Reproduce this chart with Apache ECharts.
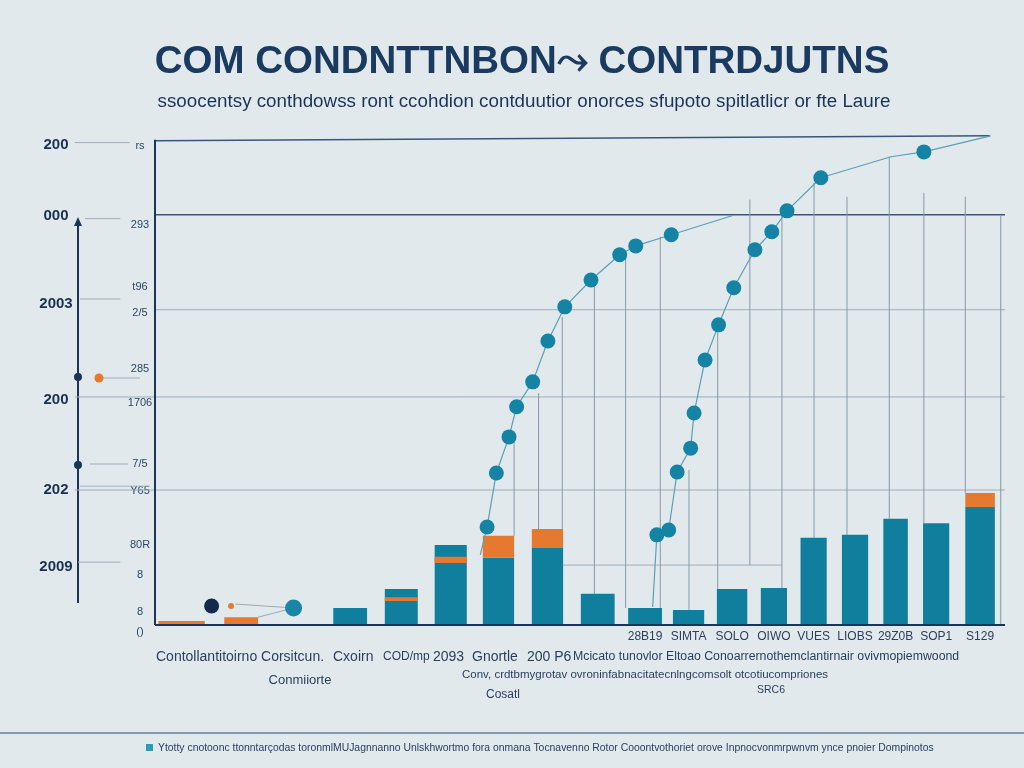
<!DOCTYPE html>
<html><head><meta charset="utf-8">
<script src="https://cdn.jsdelivr.net/npm/echarts@6/dist/echarts.min.js"></script>
<style>html,body{margin:0;padding:0;background:#e2e9ec;}#c{width:1024px;height:768px;}</style>
</head><body><div id="c"></div>
<script>
// ---- data (x in 0..100 plot units, y in 0..102 value units) ----
const barLeft   = [0.4, 8.2, 21.1, 27.2, 33.1, 38.8, 44.6, 50.4, 56.0, 61.3, 66.5, 71.7, 76.4, 81.3, 86.2, 90.9, 95.9];
const barRight  = [5.9, 12.2, 25.1, 31.1, 36.9, 42.5, 48.3, 54.4, 60.0, 65.0, 70.1, 74.8, 79.5, 84.4, 89.1, 94.0, 99.4];
const tealVals  = [0, 0, 3.5, 7.4, 16.4, 13.8, 15.8, 6.4, 3.5, 3.1, 7.4, 7.6, 17.9, 18.5, 21.8, 20.9, 24.2];
const orangeTop = [0.8, 1.6, 0, 0, 0, 18.3, 19.7, 0, 0, 0, 0, 0, 0, 0, 0, 0, 27.1];
const stripeLo  = [0, 0, 0, 4.9, 12.7, 0, 0, 0, 0, 0, 0, 0, 0, 0, 0, 0, 0];
const stripeHi  = [0, 0, 0, 5.7, 14.0, 0, 0, 0, 0, 0, 0, 0, 0, 0, 0, 0, 0];
const barLabels = ['', '', '', '', '', '', '', '', '28B19', 'SIMTA', 'SOLO', 'OIWO', 'VUES', 'LIOBS', '29Z0B', 'SOP1', 'S129'];

const line1X = [38.5, 39.3, 40.4, 41.9, 42.8, 44.7, 46.5, 48.5, 51.6, 55.0, 56.9, 61.1, 68.3];
const line1Y = [14.4, 20.1, 31.2, 38.6, 44.8, 49.9, 58.3, 65.3, 70.8, 76.0, 77.8, 80.1, 84.0];
const line1Marker = [0, 1, 1, 1, 1, 1, 1, 1, 1, 1, 1, 1, 0];

const line2X = [58.9, 59.4, 60.8, 61.8, 63.4, 63.8, 65.1, 66.7, 68.5, 71.0, 73.0, 74.8, 78.8, 87.1, 91.0, 98.9];
const line2Y = [3.7, 18.5, 19.5, 31.4, 36.3, 43.5, 54.4, 61.6, 69.2, 77.0, 80.7, 85.0, 91.8, 96.1, 97.1, 100.4];
const line2Marker = [0, 1, 1, 1, 1, 1, 1, 1, 1, 1, 1, 1, 1, 0, 1, 0];

const vLineX   = [42.5, 45.4, 48.2, 52.0, 55.7, 59.8, 63.2, 66.6, 70.4, 74.2, 78.0, 81.9, 86.9, 91.0, 95.9, 100.1];
const vLineTop = [38.6, 47.6, 63.2, 70.2, 75.6, 79.7, 31.8, 60.6, 87.3, 84.6, 90.8, 87.9, 96.1, 88.7, 87.9, 84.0];
const vLineBot = [18.3, 19.7, 19.7, 6.4, 3.5, 3.5, 3.1, 7.4, 12.3, 7.6, 17.9, 18.5, 21.8, 20.9, 27.1, 0];

const hLineY0 = [99.4, 84.2, 64.7, 46.8, 27.7, 12.3, 99.0, 83.4, 66.9, 28.5, 12.9];
const hLineY1 = [100.4, 84.2, 64.7, 46.8, 27.7, 12.3, 99.0, 83.4, 66.9, 28.5, 12.9];
const hLineX0 = [0, 0, 0, -9.5, -9.5, 47.9, -9.5, -8.3, -8.9, -8.9, -9.1];
const hLineX1 = [98.8, 100.6, 100.6, 100.6, 100.6, 74.2, -3.0, -4.1, -4.1, -0.6, -4.1];
const hLineDark = [1, 1, 0, 0, 0, 0, 0, 0, 0, 0, 0];

const dotX = [6.7, 9.0, 16.4];
const dotY = [3.9, 3.9, 3.5];
const dotKind = ['navy', 'orange', 'teal'];

const leftLabels  = ['200', '000', '2003', '200', '202', '2009'];
const leftLabelY  = [145, 216, 304, 400, 490, 567];
const innerLabels = ['rs', '293', 't96', '2/5', '285', '1706', '7/5', 'Y65', '80R', '8', '8', '()'];
const innerLabelY = [146, 225, 287, 313, 369, 403, 464, 491, 545, 575, 612, 632];

const TEAL = '#0f7f9d', ORANGE = '#e5792f', NAVY = '#1b3559', GRID = '#9eafbd', LINE = '#5a9fb8';
const FONT = '"Liberation Sans", Arial';

const chart = echarts.init(document.getElementById('c'));

const barData = barLeft.map((l, i) => [l, barRight[i], tealVals[i], orangeTop[i], stripeLo[i], stripeHi[i], i]);

function lineData(xs, ys, mk) {
  return xs.map((x, i) => ({ value: [x, ys[i]], symbol: mk[i] ? 'circle' : 'none' }));
}

const gtext = (text, x, y, opt) => Object.assign({
  type: 'text', x: x, y: y, silent: true,
  style: Object.assign({ text: text, fill: NAVY, font: '13px ' + FONT, textAlign: 'left', textVerticalAlign: 'middle' }, (opt || {}))
});

const graphics = [
  gtext('COM CONDNTTNBON\u2933 CONTRDJUTNS', 522, 62, { font: 'bold 38.5px ' + FONT, textAlign: 'center', fill: '#1a3a60' }),
  gtext('ssoocentsy conthdowss ront ccohdion contduutior onorces sfupoto spitlatlicr or fte Laure', 524, 102, { font: '18.8px ' + FONT, textAlign: 'center', fill: '#1a3358' }),
  // left decorative axis
  { type: 'line', silent: true, shape: { x1: 78, y1: 222, x2: 78, y2: 603 }, style: { stroke: NAVY, lineWidth: 2 } },
  { type: 'polygon', silent: true, shape: { points: [[74, 226], [82, 226], [78, 217]] }, style: { fill: NAVY } },
  { type: 'circle', silent: true, shape: { cx: 78, cy: 377, r: 4 }, style: { fill: NAVY } },
  { type: 'circle', silent: true, shape: { cx: 78, cy: 465, r: 4 }, style: { fill: NAVY } },
  { type: 'line', silent: true, shape: { x1: 100, y1: 378, x2: 140, y2: 378 }, style: { stroke: GRID, lineWidth: 1 } },
  { type: 'circle', silent: true, shape: { cx: 99, cy: 378, r: 4.5 }, style: { fill: ORANGE } },
  { type: 'line', silent: true, shape: { x1: 90, y1: 464, x2: 128, y2: 464 }, style: { stroke: GRID, lineWidth: 1 } },
  // footer
  { type: 'line', silent: true, shape: { x1: 0, y1: 733, x2: 1024, y2: 733 }, style: { stroke: '#2a4a72', lineWidth: 1 } },
  { type: 'rect', silent: true, shape: { x: 146, y: 744, width: 7, height: 7 }, style: { fill: '#2a9bb8' } },
  gtext('Ytotty cnotoonc ttonntarçodas toronmlMUJagnnanno Unlskhwortmo fora onmana Tocnavenno Rotor Cooontvothoriet orove Inpnocvonmrpwnvm ynce pnoier Dompinotos', 158, 748, { font: '10.4px ' + FONT, fill: '#2a4060' }),
  // lower category text rows
  gtext('Contollantitoirno Corsitcun.', 156, 657, { font: '14px ' + FONT, fill: '#2a3f5e' }),
  gtext('Cxoirn', 333, 657, { font: '14px ' + FONT, fill: '#2a3f5e' }),
  gtext('COD/mp', 383, 657, { font: '12px ' + FONT, fill: '#2a3f5e' }),
  gtext('2093', 433, 657, { font: '14px ' + FONT, fill: '#2a3f5e' }),
  gtext('Gnortle', 472, 657, { font: '14px ' + FONT, fill: '#2a3f5e' }),
  gtext('200 P6', 527, 657, { font: '14px ' + FONT, fill: '#2a3f5e' }),
  gtext('Mcicato tunovlor Eltoao Conoarrernothemclantirnair ovivmopiemwoond', 573, 657, { font: '12.3px ' + FONT, fill: '#2a3f5e' }),
  gtext('Conv, crdtbmygrotav ovroninfabnacitatecnlngcomsolt otcotiucompriones', 462, 675, { font: '11.5px ' + FONT, fill: '#2a3f5e' }),
  gtext('Conmiiorte', 300, 680, { font: '13px ' + FONT, fill: '#2a3f5e', textAlign: 'center' }),
  gtext('Cosatl', 503, 695, { font: '12px ' + FONT, fill: '#2a3f5e', textAlign: 'center' }),
  gtext('SRC6', 771, 690, { font: '10.5px ' + FONT, fill: '#2a3f5e', textAlign: 'center' })
];
leftLabels.forEach((t, i) => graphics.push(gtext(t, 56, leftLabelY[i], { font: 'bold 15px ' + FONT, textAlign: 'center', fill: '#1b2f50' })));
innerLabels.forEach((t, i) => graphics.push(gtext(t, 140, innerLabelY[i], { font: '11px ' + FONT, textAlign: 'center', fill: '#2d4563' })));

const option = {
  backgroundColor: '#e2e9ec',
  animation: false,
  grid: { left: 155, right: 19, top: 128, bottom: 143 },
  xAxis: { type: 'value', min: 0, max: 100.6, axisLine: { show: false }, axisTick: { show: false }, axisLabel: { show: false }, splitLine: { show: false } },
  yAxis: { type: 'value', min: 0, max: 102, axisLine: { show: false }, axisTick: { show: false }, axisLabel: { show: false }, splitLine: { show: false } },
  graphic: graphics,
  series: [
    { // horizontal grid / tick lines
      type: 'custom', clip: false, silent: true, z: 1,
      data: hLineY0.map((y, i) => [hLineX0[i], y, hLineX1[i], hLineY1[i], hLineDark[i]]),
      renderItem: (p, api) => {
        const a = api.coord([api.value(0), api.value(1)]), b = api.coord([api.value(2), api.value(3)]);
        const dark = api.value(4) === 1;
        return { type: 'line', shape: { x1: a[0], y1: a[1], x2: b[0], y2: b[1] }, style: { stroke: dark ? '#3a557a' : GRID, lineWidth: dark ? 1.5 : 1 } };
      }
    },
    { // vertical guide lines
      type: 'custom', clip: false, silent: true, z: 1,
      data: vLineX.map((x, i) => [x, vLineTop[i], vLineBot[i]]),
      renderItem: (p, api) => {
        const a = api.coord([api.value(0), api.value(1)]), b = api.coord([api.value(0), api.value(2)]);
        return { type: 'line', shape: { x1: a[0], y1: a[1], x2: b[0], y2: b[1] }, style: { stroke: '#8598aa', lineWidth: 1 } };
      }
    },
    { // axes lines
      type: 'custom', clip: false, silent: true, z: 3,
      data: [[0, 0, 0, 99.6], [0, 0, 100.6, 0]],
      renderItem: (p, api) => {
        const a = api.coord([api.value(0), api.value(1)]), b = api.coord([api.value(2), api.value(3)]);
        return { type: 'line', shape: { x1: a[0], y1: a[1], x2: b[0], y2: b[1] }, style: { stroke: NAVY, lineWidth: 2 } };
      }
    },
    { // stacked bars
      type: 'custom', clip: false, z: 2,
      data: barData,
      renderItem: (p, api) => {
        const l = api.value(0), r = api.value(1), t = api.value(2), o = api.value(3), s0 = api.value(4), s1 = api.value(5), idx = api.value(6);
        const ch = [];
        const rect = (y0, y1, color) => {
          const a = api.coord([l, y1]), b = api.coord([r, y0]);
          ch.push({ type: 'rect', shape: { x: a[0], y: a[1], width: b[0] - a[0], height: b[1] - a[1] }, style: { fill: color } });
        };
        if (t > 0) rect(0, t, TEAL);
        if (o > t) rect(t, o, ORANGE);
        if (s1 > s0) rect(s0, s1, ORANGE);
        const lab = barLabels[idx];
        if (lab) {
          const c = api.coord([(l + r) / 2, 0]);
          ch.push({ type: 'text', x: c[0], y: c[1] + 12, style: { text: lab, fill: '#2a3f5e', font: '12px ' + FONT, textAlign: 'center', textVerticalAlign: 'middle' } });
        }
        return { type: 'group', children: ch };
      }
    },
    { // small connector lines near bottom-left dots
      type: 'custom', clip: false, silent: true, z: 2,
      data: [[9.5, 4.3, 16.4, 3.5], [12.2, 1.6, 16.4, 3.5]],
      renderItem: (p, api) => {
        const a = api.coord([api.value(0), api.value(1)]), b = api.coord([api.value(2), api.value(3)]);
        return { type: 'line', shape: { x1: a[0], y1: a[1], x2: b[0], y2: b[1] }, style: { stroke: '#9aaab8', lineWidth: 1 } };
      }
    },
    {
      type: 'scatter', z: 4, silent: true,
      data: dotX.map((x, i) => ({
        value: [x, dotY[i]],
        symbolSize: dotKind[i] === 'orange' ? 6 : (dotKind[i] === 'navy' ? 15 : 17),
        itemStyle: { opacity: 1, color: dotKind[i] === 'orange' ? ORANGE : (dotKind[i] === 'navy' ? '#132a4d' : '#1a86a6') }
      }))
    },
    {
      type: 'line', z: 5, silent: true,
      data: lineData(line1X, line1Y, line1Marker),
      symbolSize: 15, lineStyle: { color: LINE, width: 1.2 }, itemStyle: { color: '#1584a4' }
    },
    {
      type: 'line', z: 5, silent: true,
      data: lineData(line2X, line2Y, line2Marker),
      symbolSize: 15, lineStyle: { color: LINE, width: 1.2 }, itemStyle: { color: '#1584a4' }
    }
  ]
};
chart.setOption(option);
</script>
</body></html>
